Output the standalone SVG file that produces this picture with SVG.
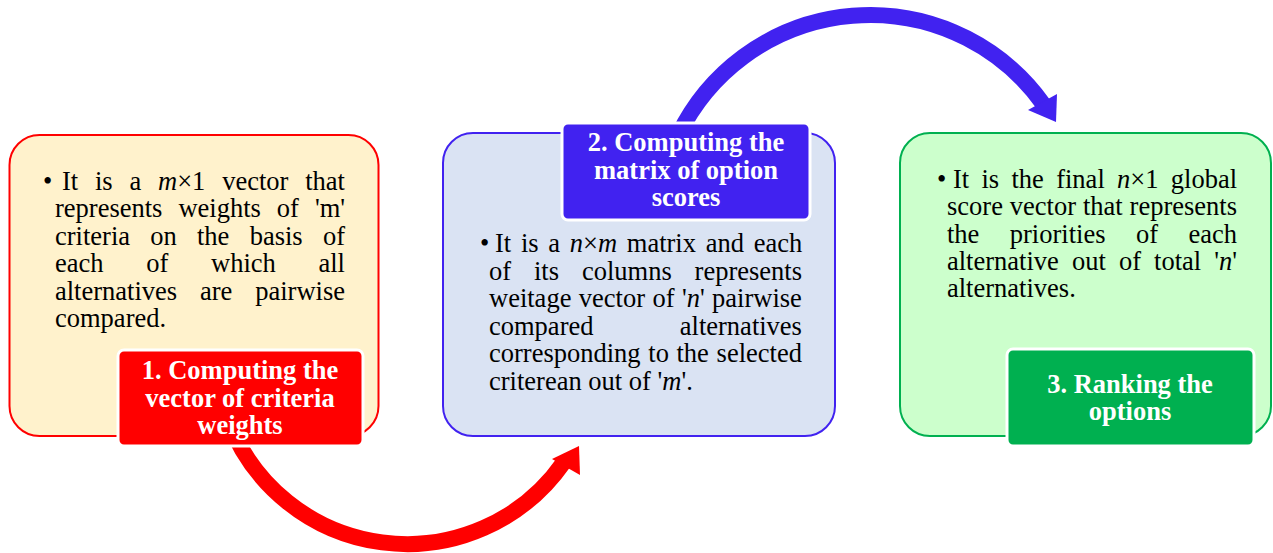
<svg xmlns="http://www.w3.org/2000/svg" width="1273" height="553" viewBox="0 0 1273 553">
<style>
.box{stroke-width:2}
.b1{fill:#FFF2CC;stroke:#FF0000}
.b2{fill:#DAE3F3;stroke:#4122F0}
.b3{fill:#CCFFCC;stroke:#00B050}
.lab{stroke:#FFFFFF;stroke-width:3}
.t{font-family:"Liberation Serif","Times New Roman",serif;font-size:26.5px;fill:#000}
.lt{font-family:"Liberation Serif","Times New Roman",serif;font-size:26.5px;font-weight:bold;fill:#FFFFFF;text-anchor:middle}
.i{font-style:italic}
.arc{fill:none;stroke-width:16}
</style>
<rect width="1273" height="553" fill="#FFFFFF"/>
<g id="connectors">
  <path class="arc" stroke="#FF0000" d="M 227.5 418.3 A 191 191 0 0 0 563.5 462.6"/>
  <polygon fill="#FF0000" points="552,459 579,446 580,475"/>
  <path class="arc" stroke="#4122F0" d="M 678.6 134.6 A 213 213 0 0 1 1043.4 104.3"/>
  <polygon fill="#4122F0" points="1028,110 1057,94 1056,122"/>
</g>
<g id="node1">
  <rect class="box b1" x="9.5" y="135" width="369" height="301" rx="30"/>
  <text class="t" y="190"><tspan x="43">•</tspan><tspan x="62">It</tspan><tspan x="95">is</tspan><tspan x="129.5">a</tspan><tspan x="158"><tspan class="i">m</tspan>×1</tspan><tspan x="222.2">vector</tspan><tspan x="305.2">that</tspan></text>
  <text class="t" y="217.4"><tspan x="55">represents</tspan><tspan x="178.4">weights</tspan><tspan x="276.8">of</tspan><tspan x="314.9">'m'</tspan></text>
  <text class="t" y="244.8"><tspan x="55">criteria</tspan><tspan x="150.3">on</tspan><tspan x="197">the</tspan><tspan x="249.7">basis</tspan><tspan x="322.9">of</tspan></text>
  <text class="t" y="272.2"><tspan x="55">each</tspan><tspan x="146.2">of</tspan><tspan x="211">which</tspan><tspan x="318.5">all</tspan></text>
  <text class="t" y="299.6"><tspan x="55">alternatives</tspan><tspan x="200">are</tspan><tspan x="255.2">pairwise</tspan></text>
  <text class="t" x="55" y="327">compared.</text>
  <rect class="lab" x="118" y="350" width="245" height="96" rx="6" fill="#FF0000"/>
  <text class="lt" x="240" y="379">1. Computing the</text>
  <text class="lt" x="240" y="406.5">vector of criteria</text>
  <text class="lt" x="240" y="433.5">weights</text>
</g>
<g id="node2">
  <rect class="box b2" x="443" y="133" width="392" height="303" rx="30"/>
  <text class="t" y="252"><tspan x="480">•</tspan><tspan x="495">It</tspan><tspan x="520.9">is</tspan><tspan x="548.3">a</tspan><tspan x="569.8"><tspan class="i">n</tspan>×<tspan class="i">m</tspan></tspan><tspan x="626.8">matrix</tspan><tspan x="705.7">and</tspan><tspan x="753.7">each</tspan></text>
  <text class="t" y="279.5"><tspan x="489">of</tspan><tspan x="534">its</tspan><tspan x="581.9">columns</tspan><tspan x="694.6">represents</tspan></text>
  <text class="t" y="307"><tspan x="489">weitage</tspan><tspan x="578.8">vector</tspan><tspan x="652.4">of</tspan><tspan x="681.9">'<tspan class="i">n</tspan>'</tspan><tspan x="712.1">pairwise</tspan></text>
  <text class="t" y="334.5"><tspan x="489">compared</tspan><tspan x="679.8">alternatives</tspan></text>
  <text class="t" y="362"><tspan x="489">corresponding</tspan><tspan x="648.3">to</tspan><tspan x="676.5">the</tspan><tspan x="716.6">selected</tspan></text>
  <text class="t" x="489" y="389.5">criterean out of '<tspan class="i">m</tspan>'.</text>
  <rect class="lab" x="562" y="123" width="248" height="97" rx="6" fill="#4122F0"/>
  <text class="lt" x="686" y="151">2. Computing the</text>
  <text class="lt" x="686" y="178.5">matrix of option</text>
  <text class="lt" x="686" y="206">scores</text>
</g>
<g id="node3">
  <rect class="box b3" x="900" y="133" width="371" height="303" rx="30"/>
  <text class="t" y="188"><tspan x="937">•</tspan><tspan x="953">It</tspan><tspan x="981.5">is</tspan><tspan x="1011.5">the</tspan><tspan x="1056.2">final</tspan><tspan x="1117.1"><tspan class="i">n</tspan>×1</tspan><tspan x="1170.8">global</tspan></text>
  <text class="t" y="215.3"><tspan x="947">score</tspan><tspan x="1009.8">vector</tspan><tspan x="1082.9">that</tspan><tspan x="1129.6">represents</tspan></text>
  <text class="t" y="242.6"><tspan x="947">the</tspan><tspan x="1009.8">priorities</tspan><tspan x="1135.9">of</tspan><tspan x="1188.4">each</tspan></text>
  <text class="t" y="270"><tspan x="947">alternative</tspan><tspan x="1072">out</tspan><tspan x="1118.9">of</tspan><tspan x="1154.1">total</tspan><tspan x="1214.2">'<tspan class="i">n</tspan>'</tspan></text>
  <text class="t" x="947" y="297">alternatives.</text>
  <rect class="lab" x="1007" y="349" width="247" height="97" rx="6" fill="#00B050"/>
  <text class="lt" x="1130" y="393">3. Ranking the</text>
  <text class="lt" x="1130" y="420">options</text>
</g>
</svg>
